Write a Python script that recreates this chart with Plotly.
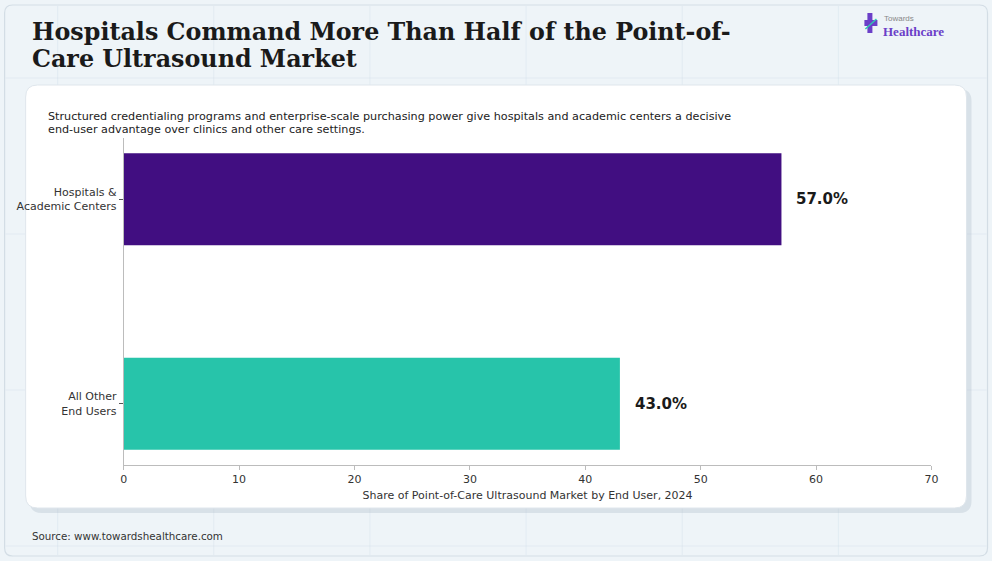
"""
Hospitals vs other end users, POCUS market share 2024
"""
import plotly.graph_objects as go

W, H = 992, 561

# data
end_users = ['All Other<br>End Users', 'Hospitals &<br>Academic Centers']
share = [43.0, 57.0]
bar_colors = ['#27c4aa', '#410e81']
x_ticks = [0, 10, 20, 30, 40, 50, 60, 70]

TITLE_LINES = ['Hospitals Command More Than Half of the Point-of-', 'Care Ultrasound Market']
SUBTITLE_LINES = ['Structured credentialing programs and enterprise-scale purchasing power give hospitals and academic centers a decisive',
                  'end-user advantage over clinics and other care settings.']
X_TITLE = 'Share of Point-of-Care Ultrasound Market by End User, 2024'
SOURCE = 'Source: www.towardshealthcare.com'

# поправка: снимок по горизонтали чуть сжат
SX, OX = 0.989, 3.4


def px_x(v):
    return (v - OX) / SX / W


def px_y(v):
    return 1 - v / H


def rounded_rect(x0, y0, x1, y1, r):
    """ путь для прямоугольника со скруглёнными углами, в пикселях -> paper """
    pts = [
        ('M', x0 + r, y0), ('L', x1 - r, y0), ('Q', x1, y0, x1, y0 + r),
        ('L', x1, y1 - r), ('Q', x1, y1, x1 - r, y1), ('L', x0 + r, y1),
        ('Q', x0, y1, x0, y1 - r), ('L', x0, y0 + r), ('Q', x0, y0, x0 + r, y0),
    ]
    out = []
    for p in pts:
        cmd = p[0]
        coords = p[1:]
        s = []
        for i in range(0, len(coords), 2):
            s.append('{:.5f},{:.5f}'.format(px_x(coords[i]), px_y(coords[i + 1])))
        out.append(cmd + ' '.join(s))
    return ' '.join(out) + ' Z'


def text_at(x, y, text, **font):
    fig.add_annotation(x=px_x(x), y=px_y(y), xref='paper', yref='paper', text=text,
                       showarrow=False, xanchor='left', yanchor='middle', align='left',
                       font=font)


fig = go.Figure()
fig.add_trace(go.Bar(
    x=share, y=end_users, orientation='h', width=0.45,
    marker=dict(color=bar_colors, line=dict(width=0)),
    hoverinfo='skip', showlegend=False,
))

for v, cat in zip(share, end_users):
    fig.add_annotation(x=v, y=cat, xref='x', yref='y', text='<b>{:.1f}%</b>'.format(v),
                       showarrow=False, xanchor='left', xshift=13,
                       font=dict(family='DejaVu Sans', size=15, color='#1a1a1a'))

shapes = []
# фоновая сетка
for gx in range(58, W, 156):
    shapes.append(dict(type='line', xref='paper', yref='paper', x0=px_x(gx), x1=px_x(gx),
                       y0=px_y(6), y1=px_y(555), line=dict(color='rgba(200,215,228,0.3)', width=1), layer='below'))
for gy in range(78, H, 156):
    shapes.append(dict(type='line', xref='paper', yref='paper', x0=px_x(6), x1=px_x(986),
                       y0=px_y(gy), y1=px_y(gy), line=dict(color='rgba(200,215,228,0.3)', width=1), layer='below'))
# внешняя рамка
shapes.append(dict(type='path', xref='paper', yref='paper', path=rounded_rect(5, 5, 987, 556, 8),
                   line=dict(color='#d3dde5', width=1.2), fillcolor='rgba(0,0,0,0)', layer='below'))
# тень карточки
shapes.append(dict(type='path', xref='paper', yref='paper', path=rounded_rect(30, 89, 971, 513, 12),
                   line=dict(width=0), fillcolor='rgba(160,175,190,0.28)', layer='below'))
# карточка
shapes.append(dict(type='path', xref='paper', yref='paper', path=rounded_rect(26, 85, 966, 508, 12),
                   line=dict(color='#dfe6ec', width=1), fillcolor='white', layer='below'))
# логотип: крестик
shapes.append(dict(type='rect', xref='paper', yref='paper', x0=px_x(867), x1=px_x(872),
                   y0=px_y(13), y1=px_y(33), fillcolor='#6b3fc8', line=dict(width=0)))
shapes.append(dict(type='rect', xref='paper', yref='paper', x0=px_x(864), x1=px_x(877),
                   y0=px_y(20), y1=px_y(26), fillcolor='#6b3fc8', line=dict(width=0)))
shapes.append(dict(type='line', xref='paper', yref='paper', x0=px_x(865), x1=px_x(876),
                   y0=px_y(29), y1=px_y(19), line=dict(color='#2fc7b0', width=1.5)))

fig.update_layout(
    width=W, height=H,
    margin=dict(l=0, r=0, t=0, b=0),
    paper_bgcolor='#eef4f8',
    plot_bgcolor='rgba(0,0,0,0)',
    shapes=shapes,
    bargap=0.5,
    font=dict(family='DejaVu Sans', size=11, color='#333333'),
)

fig.update_xaxes(
    domain=[px_x(124), px_x(931)], range=[0, 70], tickvals=x_ticks,
    showgrid=False, zeroline=False, showline=True, linecolor='#bcbcbc', linewidth=1,
    ticks='outside', ticklen=4, tickcolor='#bcbcbc',
    tickfont=dict(size=11, color='#333333'),
    title=dict(text=X_TITLE, font=dict(size=11, color='#333333'), standoff=6),
    fixedrange=True,
)
fig.update_yaxes(
    domain=[px_y(465), px_y(138)], range=[-0.3, 1.3],
    showgrid=False, zeroline=False, showline=True, linecolor='#bcbcbc', linewidth=1,
    ticks='outside', ticklen=4, tickcolor='#555555',
    tickfont=dict(size=11, color='#333333'),
    fixedrange=True,
)

# заголовок и подзаголовок построчно, чтобы выдержать межстрочный интервал
for i, line in enumerate(TITLE_LINES):
    text_at(30, 32 + 27 * i, '<b>' + line + '</b>', family='DejaVu Serif', size=23.8, color='#1a1a1a')
for i, line in enumerate(SUBTITLE_LINES):
    text_at(46, 117 + 13 * i, line, family='DejaVu Sans', size=11.2, color='#222222')
text_at(30, 536, SOURCE, family='DejaVu Sans', size=10.3, color='#333333')
text_at(882, 19, 'Towards', family='Liberation Sans', size=8, color='#888888')
text_at(881, 31, '<b>Healthcare</b>', family='Liberation Serif', size=13, color='#6b3fc8')

# убираем отступы body, чтобы фигура встала ровно в окно
fig.write_html('out.html', config={'displayModeBar': False},
               post_script="document.body.style.margin='0';document.body.style.overflow='hidden';")
